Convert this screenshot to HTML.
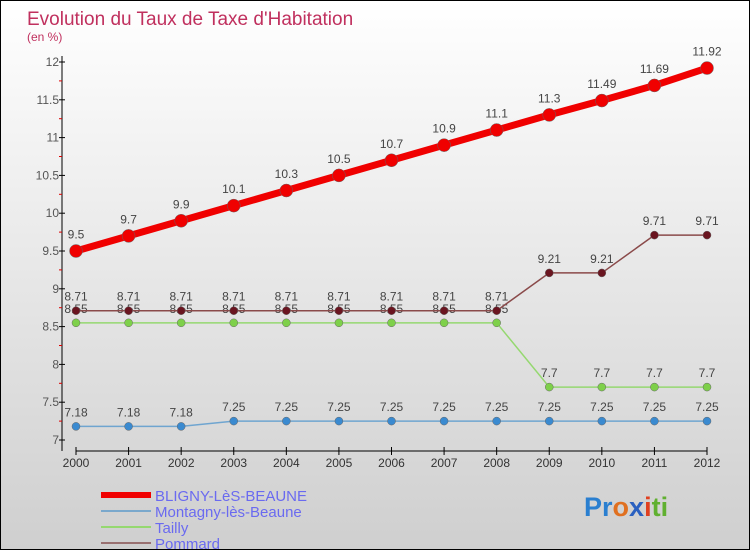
<!DOCTYPE html>
<html><head><meta charset="utf-8"><style>
body{margin:0;}
#c{width:750px;height:550px;position:relative;overflow:hidden;background:linear-gradient(#ffffff,#cfcfcf);box-sizing:border-box;border:1px solid #000;font-family:"Liberation Sans",sans-serif;}
svg{position:absolute;left:0;top:0;}
</style></head><body>
<div id="c">
<svg id="s" width="750" height="550">
<text x="26" y="24" font-size="19" fill="#c0305e">Evolution du Taux de Taxe d'Habitation</text>
<text x="26" y="40" font-size="12" fill="#c0305e">(en %)</text>
</svg>
</div>
<script>
const years=[2000,2001,2002,2003,2004,2005,2006,2007,2008,2009,2010,2011,2012];
const bligny=[9.5,9.7,9.9,10.1,10.3,10.5,10.7,10.9,11.1,11.3,11.49,11.69,11.92];
const montagny=[7.18,7.18,7.18,7.25,7.25,7.25,7.25,7.25,7.25,7.25,7.25,7.25,7.25];
const tailly=[8.55,8.55,8.55,8.55,8.55,8.55,8.55,8.55,8.55,7.7,7.7,7.7,7.7];
const pommard=[8.71,8.71,8.71,8.71,8.71,8.71,8.71,8.71,8.71,9.21,9.21,9.71,9.71];
const yTicks=[7,7.5,8,8.5,9,9.5,10,10.5,11,11.5,12];
const ns="http://www.w3.org/2000/svg";
const svg=document.getElementById('s');
const X=i=>75+i*(706-75)/12;
const Y=v=>439-(v-7)*(439-61)/5;
function el(t,a,p){const e=document.createElementNS(ns,t);for(const k in a)e.setAttribute(k,a[k]);(p||svg).appendChild(e);return e;}
// axes
let ax=el('line',{x1:61,y1:55,x2:61,y2:450,stroke:'#000'});


let ax2=el('line',{x1:75,y1:450,x2:706,y2:450,stroke:'#000'});


yTicks.forEach(v=>{
  el('line',{x1:58,y1:Y(v),x2:64,y2:Y(v),stroke:'#000'});
  if(v<12)el('line',{x1:58,y1:Y(v+0.25),x2:61,y2:Y(v+0.25),stroke:'#d00'});
  const t=el('text',{x:58,y:Y(v)+4,'font-size':12,fill:'#555','text-anchor':'end'});
  t.textContent=String(v);
  
  
});
years.forEach((y,i)=>{
  el('line',{x1:X(i),y1:446,x2:X(i),y2:454,stroke:'#000'});
  const t=el('text',{x:X(i),y:466,'font-size':12,fill:'#333','text-anchor':'middle'});
  t.textContent=String(y);
  
  
});
function series(vals,color,dot,w,r,name){
  const g=el('g',{});
  
  
  el('polyline',{points:vals.map((v,i)=>X(i)+','+Y(v)).join(' '),fill:'none',stroke:color,'stroke-width':w},g);
  vals.forEach((v,i)=>{
    const c=el('circle',{cx:X(i),cy:Y(v),r:r,fill:dot,stroke:'#666','stroke-width':0.5},g);
    
    
    const t=el('text',{x:X(i),y:Y(v)-r-6,'font-size':12,fill:'#444','text-anchor':'middle'},g);
    t.textContent=String(v);
    
    
  });
}
series(montagny,'#6fa5d0','#3a8ad0',1.5,4,'montagny-series');
series(tailly,'#95d870','#7ed04a',1.5,4,'tailly-series');
series(pommard,'#8a4a4a','#6a1520',1.5,4,'pommard-series');
series(bligny,'#f00000','#f00000',7,6.5,'bligny-series');
// legend
const leg=[['BLIGNY-LèS-BEAUNE','#f00000',6],['Montagny-lès-Beaune','#7aa8cc',2],['Tailly','#95d870',2],['Pommard','#997070',2]];
leg.forEach((l,i)=>{
  const y=494+i*16;
  const g=el('g',{});
  
  
  el('line',{x1:100,y1:y,x2:150,y2:y,stroke:l[1],'stroke-width':l[2]},g);
  const t=el('text',{x:154,y:y+6,'font-size':15,fill:'#6a6af0'},g);
  t.textContent=l[0];
});
const lg=el('text',{x:583,y:515,'font-size':27,'font-weight':'bold'});


[['Pr','#2a7fd0'],['o','#e07020'],['x','#2a60c0'],['i','#e04020'],['ti','#60b030']].forEach(p=>{const s=el('tspan',{fill:p[1]},lg);s.textContent=p[0];});
</script>
</body></html>
